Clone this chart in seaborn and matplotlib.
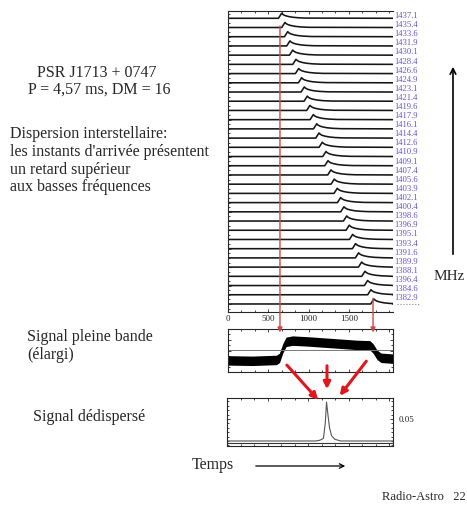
import numpy as np
import pandas as pd
import matplotlib
matplotlib.use("Agg")
import matplotlib.pyplot as plt
import seaborn as sns
from matplotlib.patches import FancyArrowPatch, ConnectionPatch
from matplotlib.ticker import MultipleLocator, FixedLocator

# ---------------- data ----------------
freq_labels = ["1437.1", "1435.4", "1433.6", "1431.9", "1430.1", "1428.4", "1426.6", "1424.9",
               "1423.1", "1421.4", "1419.6", "1417.9", "1416.1", "1414.4", "1412.6", "1410.9",
               "1409.1", "1407.4", "1405.6", "1403.9", "1402.1", "1400.4", "1398.6", "1396.9",
               "1395.1", "1393.4", "1391.6", "1389.9", "1388.1", "1396.4", "1384.6", "1382.9"]
peak_bins = [666, 707, 741, 769, 803, 844, 877, 914, 947, 984, 1017, 1059, 1101, 1129, 1170, 1216,
             1241, 1278, 1319, 1356, 1398, 1439, 1473, 1505, 1547, 1584, 1621, 1659, 1700, 1733, 1774, 1811]
pulse_offsets = [-40, 0, 15, 40, 80, 130, 200, 300]
pulse_heights = [0.0, 0.55, 0.42, 0.30, 0.20, 0.12, 0.06, 0.02]
n_bins = 2048
xtick_values = [0, 500, 1000, 1500]

band_x = [0, 300, 600, 640, 680, 720, 800, 1000, 1300, 1600, 1760, 1800, 1850, 1900, 2048]
band_center = [0.27, 0.26, 0.28, 0.33, 0.55, 0.70, 0.73, 0.71, 0.67, 0.63, 0.62, 0.55, 0.40, 0.33, 0.31]
band_halfwidth = 0.11
band_ref_level = 0.51

dd_x = [0, 1100, 1150, 1190, 1212, 1228, 1245, 1265, 1290, 1330, 1400, 2048]
dd_y = [0.0, 0.0, 0.002, 0.006, 0.04, 0.0886, 0.06, 0.03, 0.012, 0.004, 0.0, 0.0]
dd_ref_level = -0.0045
dd_tick_value = 0.05
red_marks = [645, 1800]

# ---------------- layout ----------------
W, H = 467, 508


def rect(x0, y0, x1, y1):
    return [x0 / W, 1 - y1 / H, (x1 - x0) / W, (y1 - y0) / H]


def fxy(x, y):
    return (x / W, 1 - y / H)


sns.set_theme(style="ticks")
plt.rcParams["font.family"] = ["Liberation Serif", "DejaVu Serif"]
plt.rcParams["axes.linewidth"] = 0.8

fig = plt.figure(figsize=(W / 100, H / 100), dpi=100)
fig.patch.set_facecolor("white")

# ---- top panel: channel traces ----
rows = []
n = len(peak_bins)
for k, (lab, pk) in enumerate(zip(freq_labels, peak_bins)):
    base = n - 1 - k
    xs = [0] + [pk + o for o in pulse_offsets] + [n_bins]
    ys = [base] + [base + h for h in pulse_heights] + [base]
    for x, y in zip(xs, ys):
        rows.append({"bin": x, "level": y, "chan": lab})
df = pd.DataFrame(rows)

ax_top = fig.add_axes(rect(228, 11, 393, 312))
sns.lineplot(data=df, x="bin", y="level", units="chan", estimator=None, sort=False,
             color="#151515", lw=1.15, ax=ax_top, legend=False)
ax_top.set_xlim(0, n_bins)
ax_top.set_ylim(-0.87, n - 1 + 0.79)
ax_top.set_xlabel("")
ax_top.set_ylabel("")
ax_top.spines["right"].set_visible(False)
ax_top.xaxis.set_major_locator(FixedLocator(xtick_values))
ax_top.xaxis.set_minor_locator(MultipleLocator(500 / 3))
ax_top.set_xticklabels([str(v) for v in xtick_values], fontsize=6.5)
ax_top.yaxis.set_major_locator(MultipleLocator(2))
ax_top.yaxis.set_minor_locator(MultipleLocator(0.5))
ax_top.set_yticklabels([])
ax_top.tick_params(axis="both", which="both", direction="in", top=True, right=False,
                   length=2.5, width=0.6, pad=2)
ax_top.tick_params(axis="both", which="minor", length=1.5)
ax_top.plot([2097, 2382], [0, 0], ls=":", color="#888888", lw=0.8, clip_on=False)

# channel frequency labels, one per trace, just above the trace baseline
for k, lab in enumerate(freq_labels):
    ypx = 16 + k * 9.1
    fig.text(394 / W, 1 - ypx / H, lab, color="#6655cc", fontsize=6.2, ha="left", va="center")

# ---- middle panel: full band signal ----
ax_mid = fig.add_axes(rect(228, 329, 393, 372))
bx = np.array(band_x)
bc = np.array(band_center)
ax_mid.fill_between(bx, bc - band_halfwidth, bc + band_halfwidth, color="black", lw=0)
sns.lineplot(x=band_x, y=band_center, color="black", lw=1.0, ax=ax_mid)
ax_mid.axhline(band_ref_level, color="#777777", lw=0.7)
ax_mid.set_xlim(0, n_bins)
ax_mid.set_ylim(0, 1)
ax_mid.xaxis.set_major_locator(MultipleLocator(500))
ax_mid.xaxis.set_minor_locator(MultipleLocator(500 / 3))
ax_mid.yaxis.set_major_locator(MultipleLocator(0.25))
ax_mid.yaxis.set_minor_locator(MultipleLocator(0.125))
ax_mid.set_xticklabels([])
ax_mid.set_yticklabels([])
ax_mid.tick_params(axis="both", which="both", direction="in", top=True, right=True,
                   length=2.5, width=0.6)
ax_mid.tick_params(axis="both", which="minor", length=1.5)

# ---- bottom panel: dedispersed signal ----
ax_bot = fig.add_axes(rect(227, 398, 393, 446))
sns.lineplot(x=dd_x, y=dd_y, color="#555555", lw=0.8, ax=ax_bot)
ax_bot.axhline(dd_ref_level, color="#333333", lw=0.8)
ax_bot.set_xlim(0, n_bins)
ax_bot.set_ylim(-0.0114, 0.0977)
ax_bot.xaxis.set_major_locator(MultipleLocator(500))
ax_bot.xaxis.set_minor_locator(MultipleLocator(500 / 3))
ax_bot.yaxis.set_major_locator(FixedLocator([dd_tick_value]))
ax_bot.yaxis.set_minor_locator(MultipleLocator(0.01))
ax_bot.set_xticklabels([])
ax_bot.yaxis.tick_right()
ax_bot.set_yticklabels([f"{dd_tick_value:.2f}"], fontsize=6.5)
ax_bot.tick_params(axis="both", which="both", direction="in", top=True, left=True, right=True,
                   length=2.5, width=0.6, pad=4)
ax_bot.tick_params(axis="both", which="minor", length=1.5)

# ---- red guide lines (top -> middle) ----
red_soft = "#d04848"
starts = [n - 1 - 0.84, 0.6]
for xm, y0 in zip(red_marks, starts):
    cp = ConnectionPatch(xyA=(xm, y0), coordsA=ax_top.transData,
                         xyB=(xm, 0.92), coordsB=ax_mid.transData,
                         arrowstyle="-|>", mutation_scale=7, color=red_soft, lw=1.0)
    fig.add_artist(cp)

# ---- red arrows (middle -> bottom) ----
red = "#e3161b"
for (x0, y0), (x1, y1) in [((285, 363), (320, 402)), ((327, 363), (327, 392)),
                           ((368, 359), (338, 398))]:
    fa = FancyArrowPatch(fxy(x0, y0), fxy(x1, y1), transform=fig.transFigure,
                         arrowstyle="-|>", mutation_scale=10, color=red, lw=2.2)
    fig.add_artist(fa)

# ---- black arrows ----
fig.add_artist(FancyArrowPatch(fxy(253, 466), fxy(348, 466), transform=fig.transFigure,
                               arrowstyle="->", mutation_scale=8, color="black", lw=0.9))
fig.add_artist(FancyArrowPatch(fxy(453, 257), fxy(453, 64), transform=fig.transFigure,
                               arrowstyle="->", mutation_scale=10, color="black", lw=1.2))

# ---- texts ----
fs = 11.5
fig.text(*fxy(97, 73), "PSR J1713 + 0747", fontsize=fs, ha="center", va="center")
fig.text(*fxy(99, 90), "P = 4,57 ms, DM = 16", fontsize=fs, ha="center", va="center")
for yy, s in zip([134, 152, 170, 187], ["Dispersion interstellaire:",
                                          "les instants d'arrivée présentent",
                                          "un retard supérieur",
                                          "aux basses fréquences"]):
    fig.text(*fxy(10, yy), s, fontsize=fs, ha="left", va="center")
fig.text(*fxy(27, 337), "Signal pleine bande", fontsize=fs, ha="left", va="center")
fig.text(*fxy(27, 355), "(élargi)", fontsize=fs, ha="left", va="center")
fig.text(*fxy(33, 417), "Signal dédispersé", fontsize=fs, ha="left", va="center")
fig.text(*fxy(192, 465), "Temps", fontsize=fs, ha="left", va="center")
fig.text(*fxy(434, 277), "MHz", fontsize=11, ha="left", va="center")
fig.text(*fxy(382, 497), "Radio-Astro   22", fontsize=9, ha="left", va="center")

fig.savefig("out.png", dpi=100, facecolor="white")
